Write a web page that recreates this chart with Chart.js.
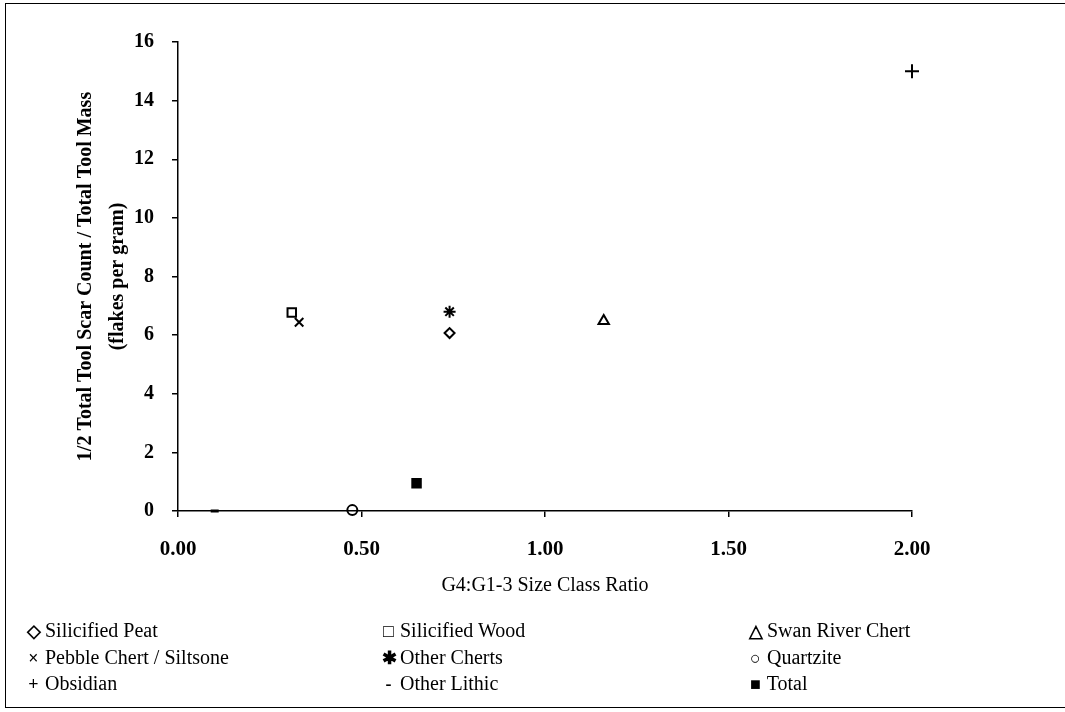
<!DOCTYPE html>
<html>
<head>
<meta charset="utf-8">
<script src="https://cdn.jsdelivr.net/npm/chart.js@4"></script>
<style>
  body { margin: 0; background: #fff; }
  #wrap { position: relative; width: 1065px; height: 712px; overflow: hidden; }
  #frame { position: absolute; left: 5px; top: 3px; width: 1070px; height: 703px;
           border-left: 1.5px solid #000; border-top: 1.5px solid #000; border-bottom: 1.5px solid #000; }
  canvas { position: absolute; left: 0; top: 0; }
  .leg { position: absolute; font-family: "Liberation Serif", serif; font-size: 20px; color: #000; white-space: nowrap; }
  .sym { display: inline-block; width: 13px; text-align: center; font-size: 18px; font-weight: bold; }
</style>
</head>
<body>
<div id="wrap">
  <div id="frame"></div>
  <canvas id="scatter_1" width="1065" height="712"></canvas>
  <div id="legend"></div>
</div>
<script>
// series (one point each)
const seriesNames = ['Silicified Peat', 'Silicified Wood', 'Swan River Chert',
                     'Pebble Chert / Siltsone', 'Other Cherts', 'Quartzite',
                     'Obsidian', 'Other Lithic', 'Total'];
const xValues = [0.74, 0.31, 1.16, 0.33, 0.74, 0.475, 2.00, 0.10, 0.65];
const yValues = [6.07, 6.77, 6.48, 6.44, 6.80, 0.03, 15.0, 0.0, 0.95];
const legendSymbols = ['◇', '□', '△', '×', '✱', '○', '+', '-', '■'];

const yTicks = [0, 2, 4, 6, 8, 10, 12, 14, 16];
const xTicks = [0, 0.5, 1, 1.5, 2];

// marker look for each series
const markerStyle = [
  { pointStyle: 'rectRot', radius: 5, fill: false },
  { pointStyle: 'rect', radius: 6, fill: false },
  { pointStyle: 'triangle', radius: 6, fill: false },
  { pointStyle: 'crossRot', radius: 6, fill: false },
  { pointStyle: 'star', radius: 6, fill: false },
  { pointStyle: 'circle', radius: 5, fill: false },
  { pointStyle: 'cross', radius: 7, fill: false },
  { pointStyle: 'line', radius: 4, fill: false },
  { pointStyle: 'rect', radius: 6, fill: true },
];

function createDrawChart(ctx, chart_type, data, options) {
  return new Chart(ctx, { type: chart_type, data: data, options: options });
}

document.addEventListener('DOMContentLoaded', function() {
  const ctx = document.getElementById('scatter_1').getContext('2d');

  const scatter_data = {
    datasets: seriesNames.map((name, i) => ({
      label: name,
      data: [{ x: xValues[i], y: yValues[i] }],
      pointStyle: markerStyle[i].pointStyle,
      pointRadius: markerStyle[i].radius,
      pointHoverRadius: markerStyle[i].radius,
      borderColor: '#000',
      backgroundColor: markerStyle[i].fill ? '#000' : 'rgba(0,0,0,0)',
      pointBorderWidth: markerStyle[i].pointStyle === 'line' ? 3 : 2,
      clip: false,
    }))
  };

  const serif = 'Liberation Serif';

  const scatter_options = {
    responsive: false,
    animation: false,
    layout: { padding: { left: 0, top: 42, right: 153, bottom: 112 } },
    plugins: {
      legend: { display: false },
      tooltip: { enabled: false },
    },
    scales: {
      x: {
        type: 'linear',
        min: 0, max: 2,
        afterBuildTicks: (scale) => { scale.ticks = xTicks.map(v => ({ value: v })); },
        afterFit: (scale) => { scale.height = 89; },
        ticks: {
          color: '#000',
          padding: 20,
          font: { family: serif, size: 21, weight: 'bold' },
          callback: (v) => Number(v).toFixed(2),
        },
        grid: { display: true, drawOnChartArea: false, drawTicks: true, tickLength: 6, color: '#000', lineWidth: 1.5 },
        border: { display: true, color: '#000', width: 1.5 },
        title: {
          display: true,
          text: 'G4:G1-3 Size Class Ratio',
          color: '#000',
          font: { family: serif, size: 20, lineHeight: 1.25 },
          padding: { top: 0, bottom: 2 },
        },
      },
      y: {
        type: 'linear',
        min: 0, max: 16,
        afterBuildTicks: (scale) => { scale.ticks = yTicks.map(v => ({ value: v })); },
        afterFit: (scale) => { scale.width = 178; },
        ticks: {
          color: '#000',
          padding: 18,
          font: { family: serif, size: 20, weight: 'bold' },
        },
        grid: { display: true, drawOnChartArea: false, drawTicks: true, tickLength: 6, color: '#000', lineWidth: 1.5 },
        border: { display: true, color: '#000', width: 1.5 },
        title: {
          display: true,
          text: ['1/2 Total Tool Scar Count / Total Tool Mass', '(flakes per gram)'],
          color: '#000',
          font: { family: serif, size: 20, weight: 'bold', lineHeight: 1.6 },
          padding: { top: 70, bottom: 0 },
        },
      },
    },
  };

  createDrawChart(ctx, 'scatter', scatter_data, scatter_options);

  // legend in three columns, below the axis title
  const legend = document.getElementById('legend');
  const colX = [27, 382, 749];
  const rowY = [619, 646, 672];
  seriesNames.forEach((name, i) => {
    const d = document.createElement('div');
    d.className = 'leg';
    d.style.left = colX[i % 3] + 'px';
    d.style.top = rowY[Math.floor(i / 3)] + 'px';
    const s = document.createElement('span');
    s.className = 'sym';
    s.textContent = legendSymbols[i];
    d.appendChild(s);
    d.appendChild(document.createTextNode(' ' + name));
    legend.appendChild(d);
  });
});
</script>
</body>
</html>
